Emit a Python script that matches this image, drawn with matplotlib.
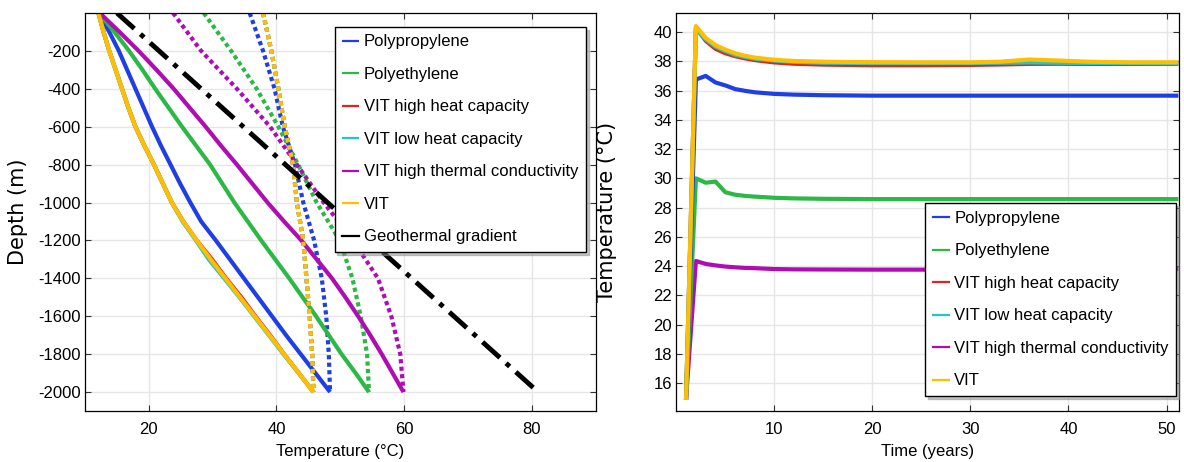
import matplotlib
matplotlib.use("Agg")
import matplotlib.pyplot as plt
from matplotlib import font_manager

# fluid temperature along the well (inlet = solid, annulus return = dotted)
depth_fine = [0, -100, -200, -300, -400, -500, -600, -700, -800, -900, -1000,
              -1100, -1200, -1300, -1400, -1500, -1600, -1700, -1800, -1900, -2000]
down_pp = [12.1, 13.8, 15.3, 16.6, 17.9, 19.2, 20.5, 21.9, 23.4, 24.9, 26.5,
           28.2, 30.5, 32.7, 34.9, 37.1, 39.3, 41.5, 43.8, 46.1, 48.4]
down_pe = [12.2, 14.6, 16.9, 19.0, 21.0, 23.1, 25.2, 27.4, 29.6, 31.5, 33.4,
           35.5, 37.6, 39.8, 42.0, 44.1, 46.2, 48.2, 50.2, 52.4, 54.5]
down_vit_hc = [12.1, 12.9, 13.8, 14.8, 15.8, 16.8, 17.9, 19.3, 20.8, 22.2, 23.6,
               25.4, 27.5, 29.9, 32.1, 34.5, 36.7, 39.0, 41.2, 43.5, 45.8]
down_vit_lc = [12.1, 12.9, 13.8, 14.8, 15.8, 16.8, 17.9, 19.3, 20.8, 22.2, 23.6,
               25.3, 27.4, 29.4, 31.8, 34.2, 36.5, 38.8, 41.1, 43.5, 45.8]
down_vit_tc = [12.3, 15.4, 18.4, 21.2, 23.9, 26.4, 28.9, 31.3, 33.8, 36.2, 38.6,
               41.2, 43.9, 46.3, 48.7, 50.8, 52.8, 54.7, 56.5, 58.2, 59.9]
down_vit = [12.1, 12.9, 13.8, 14.8, 15.8, 16.8, 17.9, 19.3, 20.8, 22.2, 23.6,
            25.4, 27.5, 29.7, 32.0, 34.3, 36.6, 38.9, 41.2, 43.5, 45.8]

depth_coarse = [0, -200, -400, -600, -800, -1000, -1200, -1400, -1600, -1800, -2000]
up_pp = [35.8, 37.9, 39.7, 41.0, 42.9, 44.2, 45.9, 47.1, 47.8, 48.2, 48.4]
up_pe = [28.6, 32.9, 36.9, 40.3, 43.4, 46.3, 49.9, 51.9, 53.2, 54.2, 54.5]
up_vit_hc = [37.9, 39.2, 40.3, 41.3, 42.6, 43.2, 44.2, 44.7, 45.2, 45.6, 45.8]
up_vit_lc = [37.9, 39.2, 40.3, 41.3, 42.6, 43.2, 44.2, 44.7, 45.2, 45.6, 45.8]
up_vit_tc = [23.8, 28.2, 33.8, 39.0, 43.2, 47.4, 52.0, 55.9, 58.0, 59.4, 59.9]
up_vit = [37.9, 39.2, 40.3, 41.3, 42.6, 43.2, 44.2, 44.7, 45.2, 45.6, 45.8]

geo_depth = [0, -2000]
geo_temp = [15.0, 81.0]

# outlet temperature over the years
years = [1, 2, 3, 4, 5, 6, 7, 8, 10, 12, 15, 20, 25, 30, 33, 36, 39, 42, 46, 51]
out_pp = [15.0, 36.75, 37.0, 36.55, 36.35, 36.1, 35.98, 35.88, 35.77, 35.72,
          35.68, 35.65, 35.65, 35.65, 35.65, 35.65, 35.65, 35.65, 35.65, 35.65]
out_pe = [15.0, 30.0, 29.7, 29.78, 29.05, 28.88, 28.8, 28.75, 28.67, 28.63,
          28.6, 28.58, 28.58, 28.58, 28.58, 28.58, 28.58, 28.58, 28.58, 28.58]
out_vit_hc = [15.0, 40.3, 39.4, 38.85, 38.55, 38.35, 38.2, 38.08, 37.92, 37.83,
              37.77, 37.73, 37.73, 37.75, 37.78, 37.82, 37.83, 37.82, 37.82, 37.83]
out_vit_lc = [15.0, 40.2, 39.5, 39.0, 38.7, 38.45, 38.3, 38.18, 38.05, 37.96,
              37.9, 37.88, 37.88, 37.88, 37.9, 37.92, 37.9, 37.88, 37.88, 37.88]
out_vit_tc = [15.0, 24.35, 24.15, 24.05, 23.97, 23.92, 23.88, 23.86, 23.8, 23.78,
              23.77, 23.76, 23.76, 23.76, 23.76, 23.76, 23.76, 23.78, 23.8, 23.82]
out_vit = [15.0, 40.4, 39.6, 39.1, 38.8, 38.55, 38.38, 38.25, 38.1, 38.02,
           37.97, 37.94, 37.93, 37.93, 37.97, 38.12, 38.05, 37.97, 37.93, 37.93]

labels = ["Polypropylene", "Polyethylene", "VIT high heat capacity",
          "VIT low heat capacity", "VIT high thermal conductivity", "VIT"]
colors = ["#1f3fe4", "#2cb845", "#e02424", "#1fc8c8", "#b00cb4", "#ffbf00"]

depth_ticks = [-200, -400, -600, -800, -1000, -1200, -1400, -1600, -1800, -2000]
temp_ticks = [20, 40, 60, 80]
year_ticks = [10, 20, 30, 40, 50]
out_ticks = [16, 18, 20, 22, 24, 26, 28, 30, 32, 34, 36, 38, 40]

names = {f.name for f in font_manager.fontManager.ttflist}
if "Liberation Sans Narrow" in names:
    tfont, tsize = "Liberation Sans Narrow", 14
elif "DejaVu Sans Condensed" in names:
    tfont, tsize = "DejaVu Sans Condensed", 12
else:
    tfont, tsize = "Liberation Sans", 12

plt.rcParams["axes.unicode_minus"] = False
plt.rcParams["font.family"] = tfont


def style_axes(ax):
    ax.grid(True, color="#e6e6e6", lw=1.0)
    ax.set_axisbelow(True)
    ax.tick_params(direction="in", length=4, width=0.8, color="#333333",
                   top=True, right=True, labelsize=tsize, pad=3)
    ax.tick_params(axis="x", pad=8)
    for sp in ax.spines.values():
        sp.set_linewidth(0.9)


def make_legend(ax, handles, labs, loc, anchor):
    leg = ax.legend(handles, labs, loc=loc, bbox_to_anchor=anchor,
                    borderaxespad=0, fontsize=tsize, fancybox=False,
                    edgecolor="black", framealpha=1, handlelength=1.0,
                    handletextpad=0.3, labelspacing=1.05, borderpad=0.45,
                    shadow={"color": "0.55", "alpha": 0.5})
    leg.get_frame().set_linewidth(1.0)
    for h in leg.get_lines():
        h.set_linewidth(1.6)
        h.set_linestyle("-")
    return leg


fig = plt.figure(figsize=(11.84, 4.62), dpi=100)
ax1 = fig.add_axes([0.0718, 0.1104, 0.4312, 0.8615])
ax2 = fig.add_axes([0.5712, 0.1104, 0.4248, 0.8615])

# left: temperature vs depth
down = [down_pp, down_pe, down_vit_hc, down_vit_lc, down_vit_tc, down_vit]
up = [up_pp, up_pe, up_vit_hc, up_vit_lc, up_vit_tc, up_vit]
for d, u, lab, c in zip(down, up, labels, colors):
    ax1.plot(d, depth_fine, color=c, lw=3, label=lab, solid_capstyle="butt")
    ax1.plot(u, depth_coarse, color=c, lw=3, linestyle=(0, (1, 0.8)))
ax1.plot(geo_temp, geo_depth, color="black", lw=3.5,
         linestyle=(0, (4.8, 1.7, 1.0, 1.7)), label="Geothermal gradient")

ax1.set_xlim(10, 90)
ax1.set_ylim(-2100, 0)
ax1.set_xticks(temp_ticks)
ax1.set_yticks(depth_ticks)
ax1.set_yticklabels([str(d) for d in depth_ticks])
style_axes(ax1)
ax1.set_xlabel("Temperature (°C)", fontsize=tsize, labelpad=5)
ax1.set_ylabel("Depth (m)", fontsize=15, family="DejaVu Sans")
ax1.yaxis.set_label_coords(-0.112, 0.5)

h1, l1 = ax1.get_legend_handles_labels()
make_legend(ax1, h1, l1, "upper right", (0.981, 0.965))

# right: outlet temperature vs time
series = [out_pp, out_pe, out_vit_hc, out_vit_lc, out_vit_tc, out_vit]
order = [4, 1, 0, 2, 3, 5]
for i in order:
    ax2.plot(years, series[i], color=colors[i], lw=3, label=labels[i])

ax2.set_xlim(0, 51.3)
ax2.set_ylim(14.1, 41.3)
ax2.set_xticks(year_ticks)
ax2.set_yticks(out_ticks)
style_axes(ax2)
ax2.set_xlabel("Time (years)", fontsize=tsize, labelpad=5)
ax2.set_ylabel("Temperature (°C)", fontsize=15, family="DejaVu Sans")
ax2.yaxis.set_label_coords(-0.118, 0.5)

h2, l2 = ax2.get_legend_handles_labels()
hmap = dict(zip(l2, h2))
make_legend(ax2, [hmap[l] for l in labels], labels, "lower right", (0.994, 0.038))

fig.savefig("out.png", dpi=100)
